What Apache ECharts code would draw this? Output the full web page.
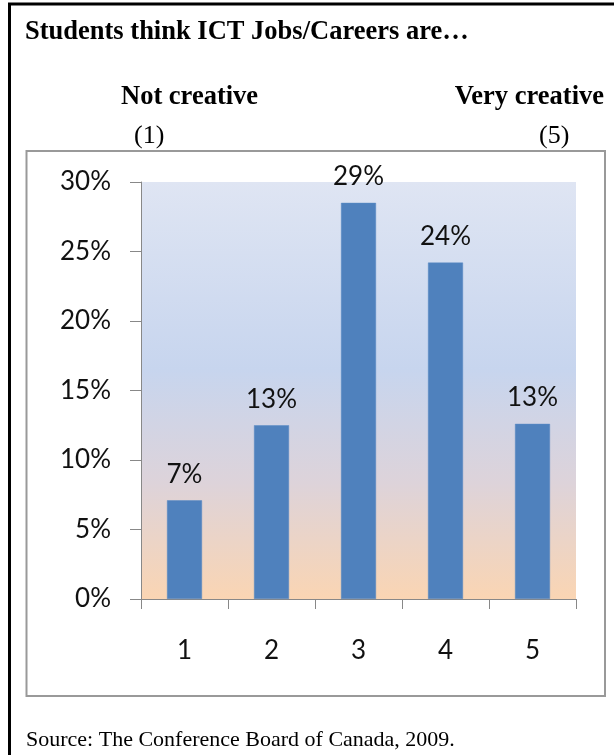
<!DOCTYPE html>
<html>
<head>
<meta charset="utf-8">
<script src="https://cdn.jsdelivr.net/npm/echarts@6/dist/echarts.min.js"></script>
<style>
html,body{margin:0;padding:0;background:#fff;}
#chart{width:614px;height:755px;}
</style>
</head>
<body>
<div id="chart"></div>
<script>
var categories = ['1', '2', '3', '4', '5'];
var values = [7.1, 12.5, 28.5, 24.2, 12.6];
var yTicks = [0, 5, 10, 15, 20, 25, 30];
var heading = 'Students think ICT Jobs/Careers are\u2026';
var leftEnd = 'Not creative';
var rightEnd = 'Very creative';
var leftNum = '(1)';
var rightNum = '(5)';
var source = 'Source: The Conference Board of Canada, 2009.';

var chart = echarts.init(document.getElementById('chart'), null, {renderer: 'canvas'});
var serif = '"Liberation Serif", "Times New Roman", serif';
var sans = 'Lato, Carlito, Calibri, "Open Sans", sans-serif';

var option = {
  animation: false,
  backgroundColor: '#fff',
  graphic: [
    {type: 'line', shape: {x1: 9.5, y1: 4, x2: 9.5, y2: 755}, style: {stroke: '#000', lineWidth: 3}},
    {type: 'line', shape: {x1: 8, y1: 4, x2: 614, y2: 4}, style: {stroke: '#000', lineWidth: 3}},
    {type: 'rect', shape: {x: 26.5, y: 151, width: 578.5, height: 545}, style: {fill: 'none', stroke: '#999', lineWidth: 2}, z: -1},
    {type: 'text', left: 25, top: 19, style: {text: heading, font: 'bold 26.5px ' + serif, fill: '#000'}},
    {type: 'text', left: 121, top: 84, style: {text: leftEnd, font: 'bold 26.5px ' + serif, fill: '#000'}},
    {type: 'text', right: 10, top: 84, style: {text: rightEnd, font: 'bold 26.5px ' + serif, fill: '#000'}},
    {type: 'text', left: 134, top: 123, style: {text: leftNum, font: '26px ' + serif, fill: '#000'}},
    {type: 'text', left: 539, top: 123, style: {text: rightNum, font: '26px ' + serif, fill: '#000'}},
    {type: 'text', left: 26, top: 729, style: {text: source, font: '22px ' + serif, fill: '#000'}}
  ],
  grid: {
    left: 141, top: 182, right: 38, bottom: 156,
    show: true, borderWidth: 0,
    backgroundColor: new echarts.graphic.LinearGradient(0, 0, 0, 1, [
      {offset: 0, color: '#dfe5f3'},
      {offset: 0.45, color: '#c7d5ee'},
      {offset: 0.72, color: '#ddd3da'},
      {offset: 1, color: '#fad5b3'}
    ])
  },
  xAxis: {
    type: 'category',
    data: categories,
    axisLine: {show: true, lineStyle: {color: '#888', width: 1}},
    axisTick: {show: true, length: 10, lineStyle: {color: '#888'}},
    axisLabel: {color: '#111', fontSize: 26, fontFamily: sans, margin: 39}
  },
  yAxis: {
    type: 'value',
    min: yTicks[0], max: yTicks[yTicks.length - 1], interval: 5,
    splitLine: {show: false},
    axisLine: {show: true, lineStyle: {color: '#888', width: 1}},
    axisTick: {show: true, length: 11, lineStyle: {color: '#888'}},
    axisLabel: {color: '#111', fontSize: 26, fontFamily: sans, margin: 30, formatter: '{value}%'}
  },
  series: [{
    type: 'bar',
    data: values,
    barWidth: 35,
    itemStyle: {color: '#4f81bd', borderColor: '#5a8ac4', borderWidth: 0.5},
    label: {
      show: true, position: 'top', distance: 13,
      color: '#111', fontSize: 26, fontFamily: sans,
      formatter: function (p) { return Math.round(p.value) + '%'; }
    }
  }]
};
chart.setOption(option);
</script>
</body>
</html>
